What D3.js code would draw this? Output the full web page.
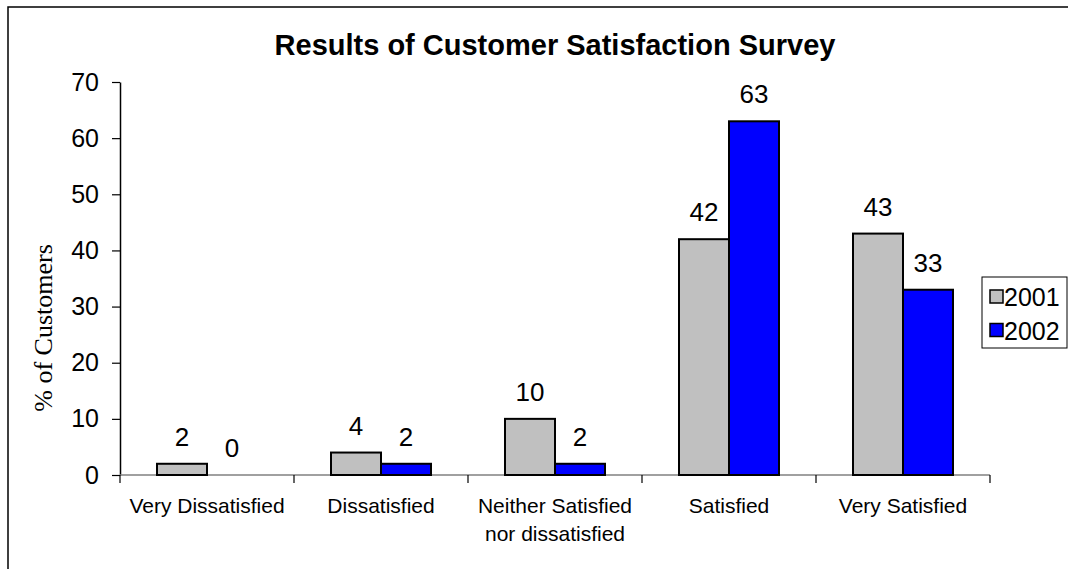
<!DOCTYPE html>
<html>
<head>
<meta charset="utf-8">
<script src="https://cdn.jsdelivr.net/npm/d3@7"></script>
<style>
  html, body { margin: 0; padding: 0; background: #fff; }
  svg { display: block; }
</style>
</head>
<body>
<svg id="chart" width="1068" height="569"></svg>
<script>
const title = "Results of Customer Satisfaction Survey";
const categories = [["Very Dissatisfied"], ["Dissatisfied"], ["Neither Satisfied", "nor dissatisfied"], ["Satisfied"], ["Very Satisfied"]];
const seriesNames = ["2001", "2002"];
const values2001 = [2, 4, 10, 42, 43];
const values2002 = [0, 2, 2, 63, 33];
const seriesColors = ["#c0c0c0", "#0000ff"];
const yTicks = [0, 10, 20, 30, 40, 50, 60, 70];
const yLabel = "% of Customers";

const svg = d3.select("#chart");
const catKeys = categories.map(c => c.join(" "));
const data = catKeys.map((k, i) => ({ key: k, lines: categories[i], vals: [values2001[i], values2002[i]] }));

// outer frame
svg.append("rect").attr("x", 8).attr("y", 7).attr("width", 1200).attr("height", 700)
  .attr("fill", "none").attr("stroke", "#000").attr("stroke-width", 1.5);

const x0 = d3.scaleBand().domain(catKeys).range([120, 990]).padding(0);
const x1 = d3.scaleBand().domain(seriesNames).range([0, x0.bandwidth()]).paddingInner(0).paddingOuter(0.74);
const y = d3.scaleLinear().domain([0, 70]).range([475, 82]);

// title
svg.append("text").attr("x", 555).attr("y", 55).attr("text-anchor", "middle")
  .attr("font-family", "Liberation Sans, Arial, sans-serif").attr("font-weight", "bold")
  .attr("font-size", 29).text(title);

// y axis
const yAxis = svg.append("g").attr("transform", "translate(120,0)")
  .call(d3.axisLeft(y).tickValues(yTicks).tickSize(8).tickPadding(13).tickSizeOuter(0));
yAxis.select(".domain").attr("stroke", "#000").attr("stroke-width", 1.5);
yAxis.selectAll(".tick line").attr("stroke", "#000").attr("stroke-width", 1.2);
yAxis.selectAll(".tick text").attr("font-family", "Liberation Sans, Arial, sans-serif")
  .attr("font-size", 25).attr("fill", "#000");

// y label
svg.append("text").attr("transform", "translate(52,328) rotate(-90)")
  .attr("text-anchor", "middle").attr("font-family", "Liberation Serif, 'Times New Roman', serif")
  .attr("font-size", 26).text(yLabel);

// x axis line and ticks
const [xa, xb] = x0.range();
svg.append("line").attr("x1", xa).attr("x2", xb).attr("y1", y(0)).attr("y2", y(0))
  .attr("stroke", "#808080").attr("stroke-width", 1.5);
const bounds = catKeys.map(k => x0(k)).concat([xb]);
svg.selectAll(".xtick").data(bounds).enter().append("line")
  .attr("x1", d => d).attr("x2", d => d).attr("y1", y(0)).attr("y2", y(0) + 8)
  .attr("stroke", "#000").attr("stroke-width", 1.2);

// bars
const groups = svg.selectAll(".grp").data(data).enter().append("g")
  .attr("transform", d => `translate(${x0(d.key)},0)`);
groups.selectAll("rect").data(d => d.vals.map((v, i) => ({ v, s: seriesNames[i], i })))
  .enter().append("rect")
  .filter(d => d.v > 0)
  .attr("x", d => x1(d.s)).attr("width", x1.bandwidth())
  .attr("y", d => y(d.v)).attr("height", d => y(0) - y(d.v))
  .attr("fill", d => seriesColors[d.i]).attr("stroke", "#000").attr("stroke-width", 2);
groups.selectAll("text.val").data(d => d.vals.map((v, i) => ({ v, s: seriesNames[i] })))
  .enter().append("text").attr("class", "val")
  .attr("x", d => x1(d.s) + x1.bandwidth() / 2).attr("y", d => y(d.v) - 18)
  .attr("text-anchor", "middle").attr("font-family", "Liberation Sans, Arial, sans-serif")
  .attr("font-size", 26).text(d => d.v);

// category labels
data.forEach(d => {
  const t = svg.append("text").attr("text-anchor", "middle")
    .attr("font-family", "Liberation Sans, Arial, sans-serif").attr("font-size", 21);
  d.lines.forEach((ln, j) => {
    t.append("tspan").attr("x", x0(d.key) + x0.bandwidth() / 2).attr("y", 513 + j * 28).text(ln);
  });
});

// legend
const lg = svg.append("g");
lg.append("rect").attr("x", 982).attr("y", 277).attr("width", 85).attr("height", 71)
  .attr("fill", "#fff").attr("stroke", "#000").attr("stroke-width", 1);
seriesNames.forEach((s, i) => {
  lg.append("rect").attr("x", 990).attr("y", 290 + i * 33.5).attr("width", 13).attr("height", 13)
    .attr("fill", seriesColors[i]).attr("stroke", "#000").attr("stroke-width", 1.5);
  lg.append("text").attr("x", 1004).attr("y", 306 + i * 33.5)
    .attr("font-family", "Liberation Sans, Arial, sans-serif").attr("font-size", 25).text(s);
});
</script>
</body>
</html>
